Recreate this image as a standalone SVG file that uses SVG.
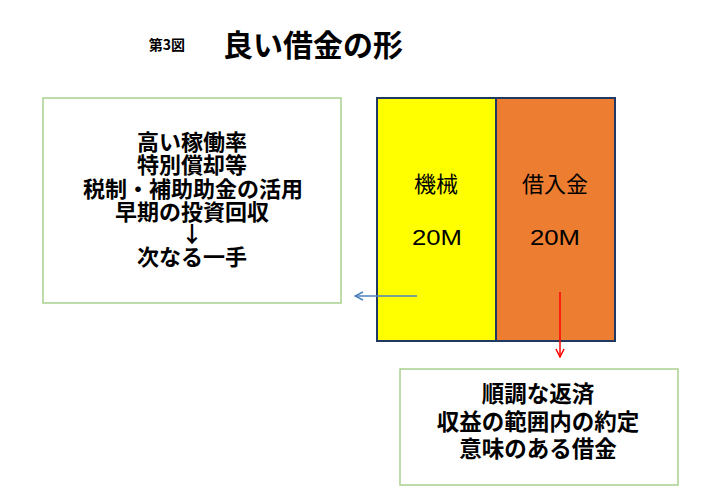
<svg xmlns="http://www.w3.org/2000/svg" width="715" height="504" viewBox="0 0 715 504">
<defs>
<style>
.t{font-family:"Noto Sans CJK JP","Noto Sans CJK SC",sans-serif;font-weight:bold;fill:#000;text-anchor:middle;dominant-baseline:central}
.n{font-family:"Noto Sans CJK JP","Liberation Sans",sans-serif;fill:#000;text-anchor:middle;dominant-baseline:central;font-size:22px}
.m{font-family:"Liberation Sans",Arial,sans-serif;fill:#000;text-anchor:middle;dominant-baseline:central;font-size:22px}
.box{fill:#fff;stroke:#a9d18e;stroke-width:1.5}
</style>
<marker id="ab" markerWidth="10" markerHeight="10" refX="9" refY="5" orient="auto" markerUnits="userSpaceOnUse">
<path d="M1,1 L9,5 L1,9" fill="none" stroke="#4f81bd" stroke-width="1.5"/>
</marker>
<marker id="ar" markerWidth="10" markerHeight="10" refX="9" refY="5" orient="auto" markerUnits="userSpaceOnUse">
<path d="M1,1 L9,5 L1,9" fill="none" stroke="#ff0000" stroke-width="1.5"/>
</marker>
</defs>
<rect width="715" height="504" fill="#fff"/>
<g id="title">
<text class="t" x="167" y="44" font-size="14">第3図</text>
<text class="t" x="313" y="43" font-size="30">良い借金の形</text>
</g>
<g id="left-box">
<rect class="box" x="43" y="98" width="298" height="205"/>
<text class="t" font-size="22"><tspan x="192" y="140">高い稼働率</tspan><tspan x="192" y="163">特別償却等</tspan><tspan x="193" y="187">税制・補助助金の活用</tspan><tspan x="192" y="210">早期の投資回収</tspan><tspan x="192" y="232">↓</tspan><tspan x="192" y="255">次なる一手</tspan></text>
</g>
<g id="machine">
<rect x="377" y="98" width="119" height="243" fill="#ffff00" stroke="#203864" stroke-width="2"/>
<text class="n" x="436" y="182">機械</text>
<text class="m" x="437" y="237" textLength="50" lengthAdjust="spacingAndGlyphs">20M</text>
</g>
<g id="loan">
<rect x="496" y="98" width="119" height="243" fill="#ed7d31" stroke="#203864" stroke-width="2"/>
<text class="n" x="555" y="182">借入金</text>
<text class="m" x="555" y="237" textLength="50" lengthAdjust="spacingAndGlyphs">20M</text>
</g>
<g id="bottom-box">
<rect class="box" x="400" y="369" width="278" height="116"/>
<text class="t" font-size="22.5"><tspan x="538" y="392">順調な返済</tspan><tspan x="538" y="420">収益の範囲内の約定</tspan><tspan x="538" y="447">意味のある借金</tspan></text>
</g>
<g id="connectors">
<line x1="417" y1="296" x2="355" y2="296" stroke="#4f81bd" stroke-width="1.5" marker-end="url(#ab)"/>
<line x1="560" y1="292" x2="560" y2="357" stroke="#ff0000" stroke-width="1.5" marker-end="url(#ar)"/>
</g>
</svg>
